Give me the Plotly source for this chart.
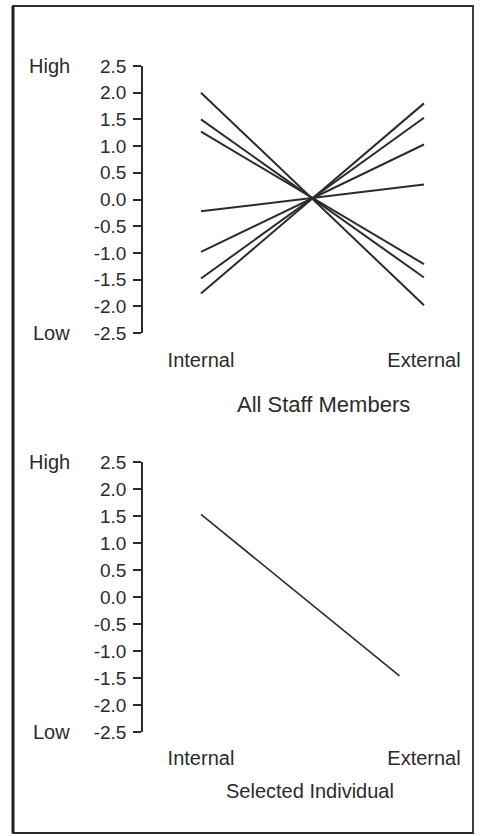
import plotly.graph_objects as go

# scores on the internal / external scale, one line per staff member
categories = ["Internal", "External"]
internal_all = [2.0, 1.5, 1.27, -0.22, -0.98, -1.48, -1.76]
external_all = [-1.98, -1.46, -1.21, 0.28, 1.03, 1.53, 1.80]

# selected individual (line stops short of the External label in the original)
selected_x = [0.0, 0.89]
selected_y = [1.53, -1.46]

tick_vals = [2.5, 2.0, 1.5, 1.0, 0.5, 0.0, -0.5, -1.0, -1.5, -2.0, -2.5]
tick_text = ["2.5", "2.0", "1.5", "1.0", "0.5", "0.0", "-0.5", "-1.0", "-1.5", "-2.0", "-2.5"]

W, H = 485, 836
INK = "#2b2b2b"
FONT = "Liberation Sans, Arial, sans-serif"


def py(px):  # window pixel row -> paper fraction
    return 1 - px / H


def pxx(px):
    return px / W


fig = go.Figure()
for a, b in zip(internal_all, external_all):
    fig.add_trace(go.Scatter(x=[0, 1], y=[a, b], mode="lines", xaxis="x", yaxis="y",
                             line=dict(color=INK, width=2), showlegend=False,
                             hoverinfo="skip"))
fig.add_trace(go.Scatter(x=selected_x, y=selected_y, mode="lines", xaxis="x2", yaxis="y2",
                         line=dict(color=INK, width=1.6), showlegend=False,
                         hoverinfo="skip"))

xdom = [pxx(143), pxx(473)]
xrange = [-0.26, -0.26 + 330 / 223]
xa = dict(domain=xdom, range=xrange, tickvals=[0, 1], ticktext=categories,
          showline=False, ticks="", showgrid=False, zeroline=False,
          fixedrange=True, automargin=False,
          tickfont=dict(family=FONT, size=20, color=INK))
ya = dict(range=[-2.5, 2.5], tickvals=tick_vals, ticktext=tick_text,
          showline=True, linecolor=INK, linewidth=1.5, ticks="outside",
          ticklen=8, tickwidth=1.5, tickcolor=INK, showgrid=False,
          zeroline=False, ticklabelstandoff=3, fixedrange=True, automargin=False,
          tickfont=dict(family=FONT, size=19, color=INK))

fig.update_layout(
    width=W, height=H, autosize=False,
    margin=dict(l=0, r=0, t=0, b=0, pad=0, autoexpand=False),
    paper_bgcolor="white", plot_bgcolor="white",
    xaxis=dict(xa, anchor="y", ticklabelstandoff=13),
    yaxis=dict(ya, anchor="x", domain=[py(333), py(66)]),
    xaxis2=dict(xa, anchor="y2", ticklabelstandoff=12),
    yaxis2=dict(ya, anchor="x2", domain=[py(732), py(462)]),
)

# High / Low captions next to the scale ends
for yref in ("y", "y2"):
    for val, txt in ((2.5, "High"), (-2.5, "Low")):
        fig.add_annotation(x=pxx(72), xref="paper", y=val, yref=yref, text=txt,
                           xanchor="right", yanchor="middle", showarrow=False,
                           font=dict(family=FONT, size=20, color=INK))

# panel titles
fig.add_annotation(x=pxx(323), y=py(404), xref="paper", yref="paper",
                   text="All Staff Members", showarrow=False,
                   font=dict(family=FONT, size=22, color=INK))
fig.add_annotation(x=pxx(310), y=py(804), xref="paper", yref="paper",
                   text="Selected Individual", showarrow=False,
                   font=dict(family=FONT, size=20, color=INK))

# outer frame, left edge drawn heavier as in the scan
fig.add_shape(type="rect", xref="paper", yref="paper",
              x0=pxx(13), x1=pxx(473), y0=py(833), y1=py(6),
              line=dict(color=INK, width=1.8))
fig.add_shape(type="line", xref="paper", yref="paper",
              x0=pxx(13), x1=pxx(13), y0=py(833), y1=py(6),
              line=dict(color="#1e1e1e", width=3))

fig.write_html("out.html", config={"displayModeBar": False},
               post_script="document.body.style.margin='0';")
